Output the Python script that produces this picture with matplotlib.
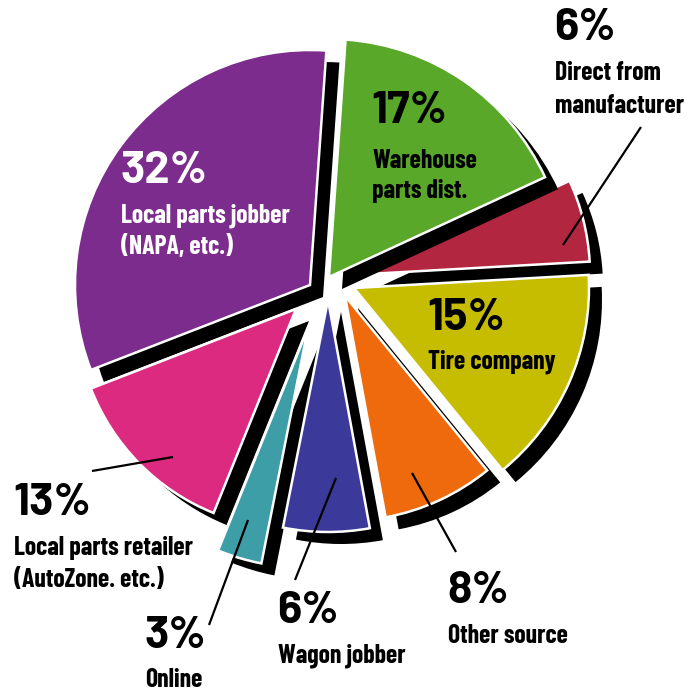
import matplotlib.pyplot as plt
from matplotlib.patches import Wedge

# Share of shops by where they buy parts (%), drawn counter-clockwise from the top
shares = [32, 13, 3, 6, 8, 15, 6, 17]
label_lines = [
    ['Local parts jobber', '(NAPA, etc.)'],
    ['Local parts retailer', '(AutoZone. etc.)'],
    ['Online'],
    ['Wagon jobber'],
    ['Other source'],
    ['Tire company'],
    ['Direct from', 'manufacturer'],
    ['Warehouse', 'parts dist.'],
]

colors = ['#7b2c8c', '#dc2a80', '#3d9ea8', '#3b3a9b',
          '#ee6a0c', '#c6bd00', '#b3263f', '#5aa82a']

# each slice is pulled out on its own: apex (px) and radius (px)
apex = [(310, 285), (296, 309), (308, 328), (328, 300),
        (345, 296), (354, 288), (368, 274), (329, 277)]
radius = [235, 220, 240, 232, 225, 235, 222, 238]
SHADOW = (13, 12)

# label anchors: percent baseline, first text baseline, line step
pct_pos = [(120, 183), (13, 515), (144, 648), (277, 623),
           (447, 603), (427, 330), (554, 40), (371, 123)]
text_base = [222, 555, 687, 663, 643, 368, 80, 168]
text_step = [32, 32, 32, 32, 32, 32, 33, 30]
text_color = ['white'] + ['black'] * 7

# leader lines from the small slices out to their labels
leaders = [
    ((563, 245), (641, 127)),
    ((92, 471), (173, 457)),
    ((248, 520), (209, 625)),
    ((336, 478), (295, 580)),
    ((412, 473), (456, 552)),
]

PCT_FONT = ['Barlow', 'Liberation Sans', 'DejaVu Sans']
TXT_FONT = ['Barlow Condensed', 'Asap Condensed', 'Liberation Sans Narrow', 'DejaVu Sans']

W, H = 699, 694
fig = plt.figure(figsize=(W / 100, H / 100), dpi=100)
ax = fig.add_axes([0, 0, 1, 1])

# y axis runs downward, so go clockwise in data to come out counter-clockwise
wedges, _ = ax.pie(shares, colors=colors, startangle=-86, counterclock=False,
                   wedgeprops=dict(edgecolor='white', linewidth=1.8))

for i, w in enumerate(wedges):
    w.set_center(apex[i])
    w.set_radius(radius[i])
    # the green slice and its shadow sit over the red one
    w.set_zorder(6 if i == 7 else 4)
    sh = Wedge((apex[i][0] + SHADOW[0], apex[i][1] + SHADOW[1]), radius[i],
               w.theta1, w.theta2, facecolor='black', edgecolor='none',
               zorder=5 if i == 7 else 2)
    ax.add_patch(sh)

ax.set_xlim(0, W)
ax.set_ylim(H, 0)
ax.set_aspect('equal')
ax.axis('off')

for (p0, p1) in leaders:
    ax.plot([p0[0], p1[0]], [p0[1], p1[1]], color='black', lw=1.6, zorder=8,
            solid_capstyle='butt')

for i, s in enumerate(shares):
    x, y = pct_pos[i]
    ax.text(x, y, f'{s}%', fontsize=32.5, fontweight='bold', family=PCT_FONT,
            color=text_color[i], ha='left', va='baseline', zorder=9)
    for k, line in enumerate(label_lines[i]):
        ax.text(x + 1, text_base[i] + k * text_step[i], line, fontsize=18.5,
                fontweight='bold', family=TXT_FONT,
                color=text_color[i], ha='left', va='baseline', zorder=9)

fig.savefig('out.png', dpi=100, facecolor='white')
